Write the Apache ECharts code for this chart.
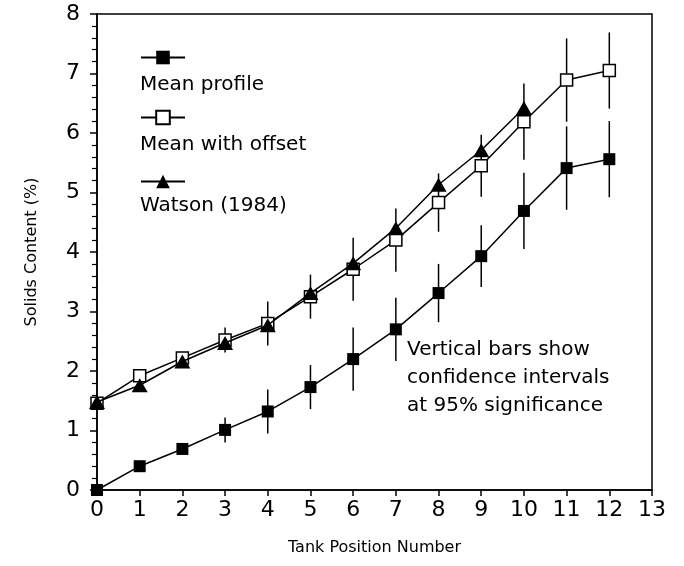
<!DOCTYPE html>
<html>
<head>
<meta charset="utf-8">
<script src="https://cdn.jsdelivr.net/npm/echarts@6/dist/echarts.min.js"></script>
<style>html,body{margin:0;padding:0;background:#fff;}#c{width:684px;height:566px;}</style>
</head>
<body>
<div id="c"></div>
<script>
// ---- data ----
var positions = [0, 1, 2, 3, 4, 5, 6, 7, 8, 9, 10, 11, 12];
var meanProfile = [0, 0.40, 0.69, 1.01, 1.32, 1.73, 2.20, 2.70, 3.31, 3.93, 4.69, 5.41, 5.56];
var meanOffset = [1.46, 1.92, 2.22, 2.52, 2.80, 3.25, 3.71, 4.20, 4.83, 5.45, 6.19, 6.89, 7.05];
var watsonPositions = [0, 1, 2, 3, 4, 5, 6, 7, 8, 9, 10];
var watson1984 = [1.48, 1.76, 2.16, 2.47, 2.77, 3.31, 3.81, 4.40, 5.13, 5.71, 6.42];
var ciHalf = [0, 0.04, 0.10, 0.21, 0.37, 0.37, 0.53, 0.53, 0.49, 0.52, 0.64, 0.70, 0.64];
var seriesNames = ['Mean profile', 'Mean with offset', 'Watson (1984)'];
var noteLines = ['Vertical bars show', 'confidence intervals', 'at 95% significance'];

var FONT = '"DejaVu Sans"';
function pairs(xs, ys) { return xs.map(function (x, i) { return [x, ys[i]]; }); }
function errData(xs, ys, e) { return xs.map(function (x, i) { return [x, ys[i] - e[i], ys[i] + e[i]]; }); }
function errRender(params, api) {
  var p1 = api.coord([api.value(0), api.value(1)]);
  var p2 = api.coord([api.value(0), api.value(2)]);
  return { type: 'line', shape: { x1: p1[0], y1: p1[1], x2: p2[0], y2: p2[1] },
           style: { stroke: '#000', lineWidth: 1.5 } };
}

var chart = echarts.init(document.getElementById('c'), null, { renderer: 'canvas' });
var legendTops = [49, 109, 173];
var textTops = [87, 147, 208];
var legends = seriesNames.map(function (n, i) {
  return { data: [n], left: 140, top: legendTops[i], itemWidth: 44, itemHeight: 17,
           formatter: function () { return ''; }, selectedMode: false,
           textStyle: { fontSize: 1 }, itemGap: 0, padding: 0 };
});
var graphics = seriesNames.map(function (n, i) {
  return { type: 'text', left: 140, top: textTops[i] - 12,
           style: { text: n, font: '20px ' + FONT, fill: '#000' } };
});
noteLines.forEach(function (t, i) {
  graphics.push({ type: 'text', left: 407, top: 340 + i * 28,
                  style: { text: t, font: '20px ' + FONT, fill: '#000' } });
});

chart.setOption({
  animation: false,
  backgroundColor: '#fff',
  grid: { left: 97, right: 32, top: 14, bottom: 76, show: true, borderColor: '#000', borderWidth: 1.5 },
  legend: legends,
  graphic: graphics,
  xAxis: {
    type: 'value', min: 0, max: 13, interval: 1,
    name: 'Tank Position Number', nameLocation: 'middle', nameGap: 50,
    nameTextStyle: { fontFamily: FONT, fontSize: 16, color: '#000' },
    axisLine: { onZero: false, lineStyle: { color: '#000', width: 1.5 } },
    axisTick: { show: true, inside: false, length: 6, lineStyle: { color: '#000', width: 1.5 } },
    axisLabel: { fontFamily: FONT, fontSize: 22, color: '#000', margin: 9 },
    splitLine: { show: false }
  },
  yAxis: {
    type: 'value', min: 0, max: 8, interval: 1,
    name: 'Solids Content (%)', nameLocation: 'middle', nameGap: 57, nameRotate: 90,
    nameTextStyle: { fontFamily: FONT, fontSize: 16, color: '#000' },
    axisLine: { onZero: false, lineStyle: { color: '#000', width: 1.5 } },
    axisTick: { show: true, inside: false, length: 7, lineStyle: { color: '#000', width: 1.5 } },
    minorTick: { show: true, splitNumber: 5, length: 5, lineStyle: { color: '#000', width: 1.2 } },
    axisLabel: { fontFamily: FONT, fontSize: 22, color: '#000', margin: 17 },
    splitLine: { show: false }
  },
  series: [
    { type: 'custom', renderItem: errRender, data: errData(positions, meanProfile, ciHalf), z: 1, silent: true },
    { type: 'custom', renderItem: errRender, data: errData(positions, meanOffset, ciHalf), z: 1, silent: true },
    { name: seriesNames[0], type: 'line', data: pairs(positions, meanProfile), symbol: 'rect', symbolSize: 12,
      lineStyle: { color: '#000', width: 1.5 }, itemStyle: { color: '#000' }, z: 3 },
    { name: seriesNames[1], type: 'line', data: pairs(positions, meanOffset), symbol: 'rect', symbolSize: 12,
      lineStyle: { color: '#000', width: 1.5 }, itemStyle: { color: '#fff', borderColor: '#000', borderWidth: 1.5 }, z: 3 },
    { name: seriesNames[2], type: 'line', data: pairs(watsonPositions, watson1984), symbol: 'triangle', symbolSize: [16, 14],
      lineStyle: { color: '#000', width: 1.5 }, itemStyle: { color: '#000' }, z: 4 }
  ]
});
</script>
</body>
</html>
